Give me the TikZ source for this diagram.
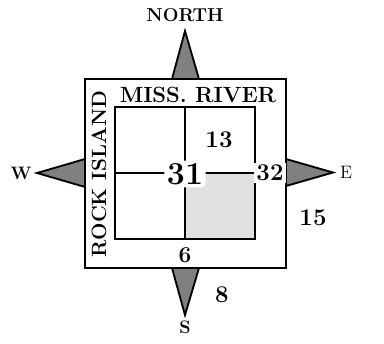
\documentclass[tikz,border=0pt]{standalone}
\usepackage{fontspec}
\usetikzlibrary{positioning}

\begin{document}
\begin{tikzpicture}[
    x=0.75pt, y=-0.75pt,
    frame/.style={draw=black, line width=1.5pt},
    arm/.style={draw=black, fill=black!50, line width=1.4pt, line join=miter},
    dirlbl/.style={font=\fontsize{14}{14}\selectfont\bfseries, inner sep=1pt},
    num/.style={font=\fontsize{18}{18}\selectfont\bfseries, inner sep=1pt},
    road/.style={font=\fontsize{16.5}{17}\selectfont\bfseries, inner sep=0pt},
]
\useasboundingbox (0,0) rectangle (384,343);

% shaded quarter section
\fill[black!12] (185,173) rectangle (255,239);

% section grid
\draw[frame] (115,107) rectangle (255,239);
\draw[frame] (185,107) -- (185,239);
\draw[frame] (115,173) -- (255,173);

% compass arms (drawn from the frame outward)
\draw[arm] (172,79) -- (185,31) -- (199,79) -- cycle;
\draw[arm] (172,268) -- (185,315) -- (199,268) -- cycle;
\draw[arm] (85,159) -- (37,173) -- (85,187) -- cycle;
\draw[arm] (286,159) -- (333,172.5) -- (286,186) -- cycle;

% outer frame
\draw[frame, fill=none] (85,79) rectangle (286,268);

% compass labels
\node[dirlbl] (north) at (185,15) {NORTH};
\node[dirlbl, font=\fontsize{13.5}{14}\selectfont\bfseries] (west) at (21,173) {W};
\node[dirlbl, font=\fontsize{13.5}{14}\selectfont] (east) at (346,172) {E};
\node[dirlbl, font=\fontsize{13.5}{14}\selectfont\bfseries] (south) at (185,327) {S};

% road names
\node[road] (river) at (198,95) {MISS. RIVER};
\node[road, font=\fontsize{15.5}{16}\selectfont\bfseries, rotate=90] (island) at (99,174) {ROCK ISLAND};

% section numbers
\node[num, fill=white, rounded corners=3pt, inner sep=2pt,
      font=\fontsize{24}{24}\selectfont\bfseries] (s31) at (185,174) {31};
\node[num, fill=white, inner sep=1.5pt] (s32) at (270,173) {32};
\node[num] (s13) at (219,140) {13};
\node[num, fill=white, font=\fontsize{17}{17}\selectfont\bfseries] (s6) at (185,255) {6};
\node[num] (s15) at (313,218) {15};
\node[num] (s8) at (222,295) {8};
\end{tikzpicture}
\end{document}
